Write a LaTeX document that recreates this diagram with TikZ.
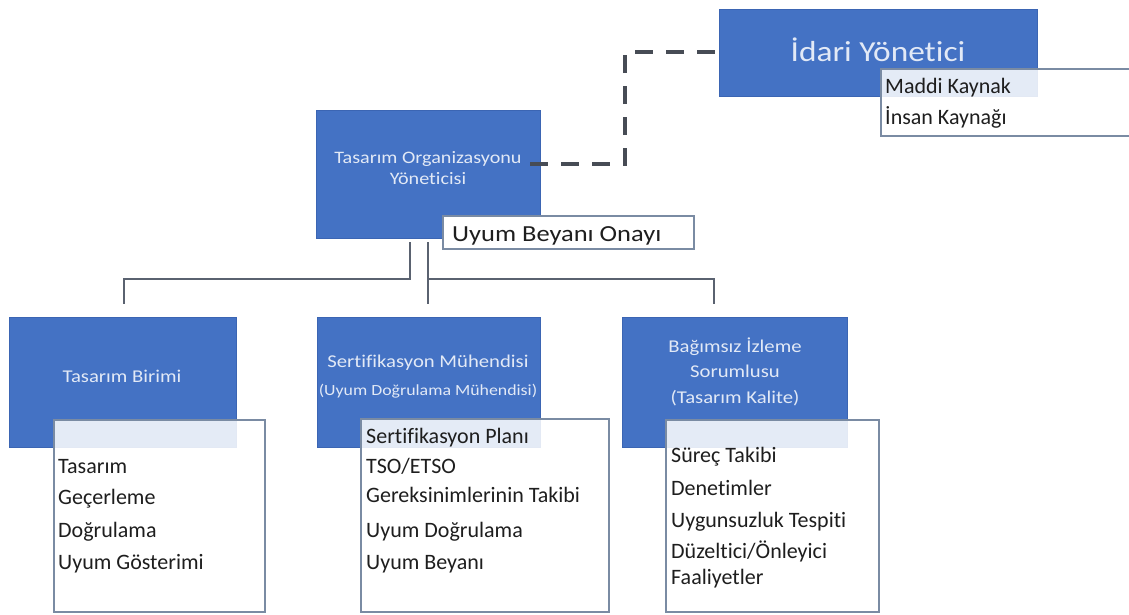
\documentclass[tikz,border=0pt]{standalone}
\usepackage{fontspec}
\setmainfont{Carlito}[FakeStretch=1.15,Ligatures=NoCommon]
\newfontfamily\listfont{Carlito}[Ligatures=NoCommon]
\definecolor{boxblue}{HTML}{4472C4}
\definecolor{boxedge}{HTML}{3B65B3}
\definecolor{paneledge}{HTML}{7A8BA3}
\definecolor{linkgray}{HTML}{5A6270}
\definecolor{dashgray}{HTML}{474C55}
\definecolor{bluetext}{HTML}{E2E9F6}
\definecolor{listtext}{HTML}{1E1E1E}
\begin{document}
\begin{tikzpicture}[x=1pt,y=-1pt,
  bluebox/.style={draw=boxedge,line width=0.8pt,fill=boxblue,inner sep=0pt,outer sep=0pt,anchor=north west},
  panel/.style={draw=paneledge,line width=1.2pt,fill=white,fill opacity=0.86,text opacity=1,inner sep=0pt,outer sep=0pt,anchor=north west},
  headtext/.style={text=bluetext,align=center,inner sep=0pt,font=\fontsize{18}{28}\selectfont},
  item/.style={text=listtext,anchor=base west,inner sep=0pt,font=\listfont\fontsize{22}{26}\selectfont},
  link/.style={draw=linkgray,line width=1.5pt},
  dashlink/.style={draw=dashgray,line width=4pt,dash pattern=on 18pt off 13pt}]
\useasboundingbox (0,0) rectangle (1129,614);
\begin{scope}
\clip (0,0) rectangle (1129,614);

% top-level boxes
\node[bluebox,minimum width=318pt,minimum height=87pt] (idari) at (719,9) {};
\node[text=bluetext,inner sep=0pt,font=\fontsize{29}{34}\selectfont] (idaritxt) at (878,50) {İdari Yönetici};
\node[panel,minimum width=262pt,minimum height=67pt] (kaynak) at (881,69) {};
\node[item] (k1) at (885,93) {Maddi Kaynak};
\node[item] (k2) at (885,124) {İnsan Kaynağı};

\node[bluebox,minimum width=224pt,minimum height=128pt] (toy) at (316,110) {};
\node[headtext,font=\fontsize{17.5}{21}\selectfont] (toytxt) at (428,168) {Tasarım Organizasyonu\\Yöneticisi};
\node[panel,fill opacity=1,minimum width=251pt,minimum height=33pt] (onay) at (443,216) {};
\node[text=listtext,anchor=base west,inner sep=0pt,font=\fontsize{23}{28}\selectfont] (onaytxt) at (452,241) {Uyum Beyanı Onayı};

% dashed staff link
\coordinate (d0) at (530,164);
\coordinate (d1) at (625,164);
\coordinate (d2) at (625,52);
\draw[dashlink] (d0) -- (d1) -- (d2) -- (idari.west |- d2);

% second-level boxes
\node[bluebox,minimum width=227pt,minimum height=130pt] (b1) at (9,317) {};
\node[bluebox,minimum width=223pt,minimum height=130pt] (b2) at (317,317) {};
\node[bluebox,minimum width=225pt,minimum height=130pt] (b3) at (622,317) {};

\node[headtext] (b1txt) at (122,376) {Tasarım Birimi};
\node[headtext] (b2a) at (428,363) {Sertifikasyon Mühendisi};
\node[headtext,font=\fontsize{15.5}{20}\selectfont] (b2b) at (428,391) {(Uyum Doğrulama Mühendisi)};
\node[headtext] (b3a) at (735,347) {Bağımsız İzleme};
\node[headtext] (b3b) at (735,371) {Sorumlusu};
\node[headtext] (b3c) at (735,398) {(Tasarım Kalite)};

% tree connectors
\coordinate (t1) at (410,242);
\coordinate (t2) at (428,242);
\coordinate (bus) at (0,279);
\coordinate (e1) at (124,304);
\coordinate (e2) at (428,304);
\coordinate (e3) at (714,304);
\draw[link] (t1) -- (t1 |- bus) -- (e1 |- bus) -- (e1);
\draw[link] (t2) -- (e2);
\draw[link] (t2 |- bus) -- (e3 |- bus) -- (e3);

% task panels
\node[panel,minimum width=211pt,minimum height=192pt] (w1) at (54,420) {};
\node[panel,minimum width=248pt,minimum height=193pt] (w2) at (361,419) {};
\node[panel,minimum width=213pt,minimum height=192pt] (w3) at (666,420) {};

\node[item] (w1a) at (58,473) {Tasarım};
\node[item] (w1b) at (58,504) {Geçerleme};
\node[item] (w1c) at (58,537) {Doğrulama};
\node[item] (w1d) at (58,569) {Uyum Gösterimi};

\node[item] (w2a) at (366,443) {Sertifikasyon Planı};
\node[item] (w2b) at (366,473) {TSO/ETSO};
\node[item] (w2c) at (366,502) {Gereksinimlerinin Takibi};
\node[item] (w2d) at (366,537) {Uyum Doğrulama};
\node[item] (w2e) at (366,569) {Uyum Beyanı};

\node[item] (w3a) at (671,462) {Süreç Takibi};
\node[item] (w3b) at (671,495) {Denetimler};
\node[item] (w3c) at (671,527) {Uygunsuzluk Tespiti};
\node[item] (w3d) at (671,558) {Düzeltici/Önleyici};
\node[item] (w3e) at (671,584) {Faaliyetler};
\end{scope}
\end{tikzpicture}
\end{document}
